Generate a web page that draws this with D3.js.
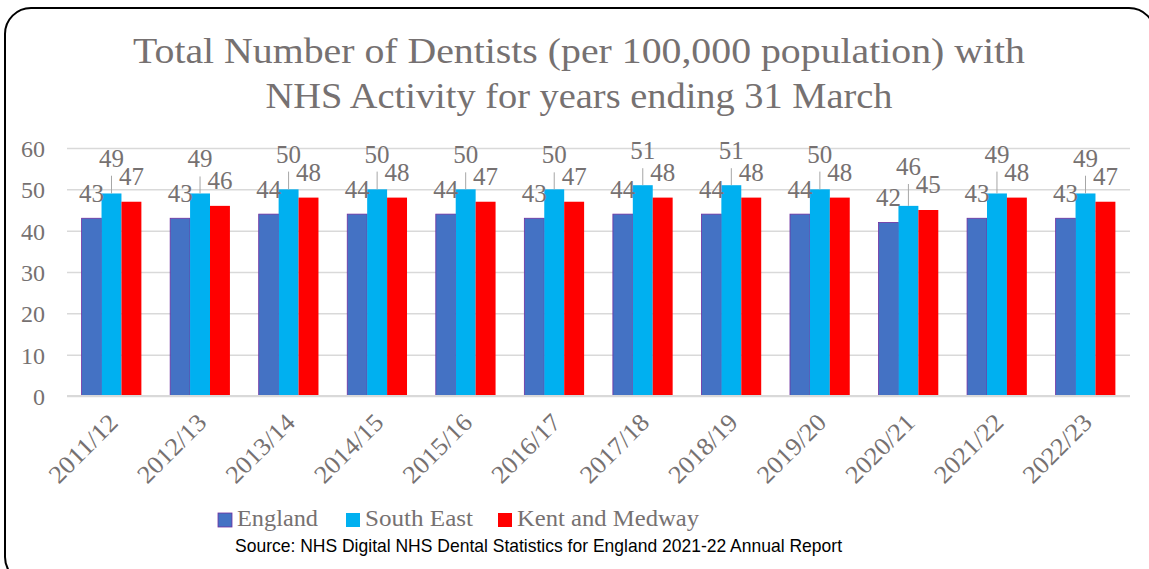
<!DOCTYPE html>
<html>
<head>
<meta charset="utf-8">
<script src="https://cdn.jsdelivr.net/npm/d3@7.9.0/dist/d3.min.js"></script>
<style>
  body { margin: 0; background: #fff; }
  svg { display: block; }
</style>
</head>
<body>
<div id="chart"></div>
<script>
// data
const years = ['2011/12', '2012/13', '2013/14', '2014/15', '2015/16', '2016/17',
  '2017/18', '2018/19', '2019/20', '2020/21', '2021/22', '2022/23'];
const seriesNames = ['England', 'South East', 'Kent and Medway'];
const england = [43, 43, 44, 44, 44, 43, 44, 44, 44, 42, 43, 43];
const southEast = [49, 49, 50, 50, 50, 50, 51, 51, 50, 46, 49, 49];
const kentMedway = [47, 46, 48, 48, 47, 47, 48, 48, 48, 45, 48, 47];
const yTicks = [0, 10, 20, 30, 40, 50, 60];
const titleLines = ['Total Number of Dentists (per 100,000 population) with',
  'NHS Activity for years ending 31 March'];
const sourceText = 'Source: NHS Digital NHS Dental Statistics for England 2021-22 Annual Report';

const width = 1149;
const height = 569;
const textColor = '#767171';
const serif = '"Liberation Serif", "DejaVu Serif", serif';
const colors = { 'England': '#4472C4', 'South East': '#00B0F0', 'Kent and Medway': '#FF0000' };

const rows = years.map((year, i) => ({
  year,
  values: [
    { key: 'England', value: england[i] },
    { key: 'South East', value: southEast[i] },
    { key: 'Kent and Medway', value: kentMedway[i] }
  ]
}));

const svg = d3.select('#chart')
  .append('svg')
  .attr('width', width)
  .attr('height', height);

// rounded frame
svg.append('rect')
  .attr('x', 5).attr('y', 8)
  .attr('width', 1150).attr('height', 575)
  .attr('rx', 26)
  .attr('fill', 'none')
  .attr('stroke', '#000')
  .attr('stroke-width', 2);

// title
const titleWidths = [892, 627];
svg.append('g').selectAll('text')
  .data(titleLines)
  .join('text')
  .attr('x', 579)
  .attr('y', (d, i) => 63 + i * 45)
  .attr('text-anchor', 'middle')
  .attr('font-family', serif)
  .attr('font-size', 35)
  .attr('fill', textColor)
  .attr('textLength', (d, i) => titleWidths[i])
  .attr('lengthAdjust', 'spacingAndGlyphs')
  .text(d => d);

const x0 = d3.scaleBand().domain(years).range([67, 1130]).paddingInner(0.325).paddingOuter(0.165);
const x1 = d3.scaleBand().domain(seriesNames).range([0, x0.bandwidth()]);
const y = d3.scaleLinear().domain([0, 60]).range([396, 148]);

// gridlines
svg.append('g')
  .attr('transform', 'translate(67,0)')
  .call(d3.axisLeft(y).tickValues(yTicks).tickFormat('').tickSize(-(1130 - 67)))
  .call(g => g.select('.domain').remove())
  .call(g => g.selectAll('line').attr('stroke', '#D9D9D9').attr('stroke-width', 1.5));

// y labels
svg.append('g')
  .attr('transform', 'translate(45,0)')
  .call(d3.axisLeft(y).tickValues(yTicks).tickSize(0).tickPadding(0))
  .call(g => g.select('.domain').remove())
  .call(g => g.selectAll('text')
    .attr('font-family', serif)
    .attr('font-size', 24)
    .attr('fill', textColor)
    .attr('dy', '0.36em'));

// bars
const groups = svg.append('g').selectAll('g')
  .data(rows)
  .join('g')
  .attr('transform', d => `translate(${x0(d.year)},0)`);

groups.selectAll('rect')
  .data(d => d.values)
  .join('rect')
  .attr('x', d => x1(d.key))
  .attr('y', d => y(d.value))
  .attr('width', x1.bandwidth())
  .attr('height', d => y(0) - y(d.value))
  .attr('fill', d => colors[d.key])
  .attr('stroke', d => d.key === 'England' ? '#7030A0' : 'none')
  .attr('stroke-width', 0.8);

// x axis line
svg.append('line')
  .attr('x1', 67).attr('x2', 1130)
  .attr('y1', y(0)).attr('y2', y(0))
  .attr('stroke', '#D9D9D9')
  .attr('stroke-width', 2);

// label baselines: South East label is lifted clear of the Kent and Medway label
const labelOffset = { 'England': 16, 'South East': 26, 'Kent and Medway': 17 };
function labelY(row, key) {
  const v = row.values.find(d => d.key === key).value;
  if (key !== 'South East') return y(v) - labelOffset[key];
  const km = row.values.find(d => d.key === 'Kent and Medway').value;
  return Math.min(y(v) - labelOffset[key], y(km) - labelOffset['Kent and Medway'] - 18);
}

// leader lines for South East labels
groups.selectAll('line.leader')
  .data(d => [d])
  .join('line')
  .attr('class', 'leader')
  .attr('x1', x1('South East') + x1.bandwidth() / 2)
  .attr('x2', x1('South East') + x1.bandwidth() / 2)
  .attr('y1', d => y(d.values[1].value))
  .attr('y2', d => labelY(d, 'South East') + 9)
  .attr('stroke', '#A6A6A6')
  .attr('stroke-width', 1);

// value labels
groups.selectAll('text.value')
  .data(d => d.values.map(v => ({ ...v, row: d })))
  .join('text')
  .attr('class', 'value')
  .attr('x', d => x1(d.key) + x1.bandwidth() / 2)
  .attr('y', d => labelY(d.row, d.key))
  .attr('text-anchor', 'middle')
  .attr('font-family', serif)
  .attr('font-size', 25)
  .attr('fill', textColor)
  .attr('textLength', 25)
  .attr('lengthAdjust', 'spacingAndGlyphs')
  .text(d => d.value);

// x labels
svg.append('g').selectAll('text')
  .data(years)
  .join('text')
  .attr('transform', d => `translate(${x0(d) + x0.bandwidth() / 2 + 8},${y(0) + 28}) rotate(-45)`)
  .attr('text-anchor', 'end')
  .attr('font-family', serif)
  .attr('font-size', 25)
  .attr('fill', textColor)
  .attr('textLength', 86)
  .attr('lengthAdjust', 'spacingAndGlyphs')
  .text(d => d);

// legend
const legendX = [218, 346, 498];
const legendWidths = [81, 108, 182];
const legend = svg.append('g').selectAll('g')
  .data(seriesNames)
  .join('g')
  .attr('transform', (d, i) => `translate(${legendX[i]},513)`);

legend.append('rect')
  .attr('width', 14).attr('height', 14)
  .attr('fill', d => colors[d])
  .attr('stroke', d => d === 'England' ? '#7030A0' : 'none')
  .attr('stroke-width', 0.8);

legend.append('text')
  .attr('x', 19)
  .attr('y', 13)
  .attr('font-family', serif)
  .attr('font-size', 24)
  .attr('fill', textColor)
  .attr('textLength', (d, i) => legendWidths[i])
  .attr('lengthAdjust', 'spacingAndGlyphs')
  .text(d => d);

// source note
svg.append('text')
  .attr('x', 235)
  .attr('y', 552)
  .attr('font-family', '"Liberation Sans", Arial, sans-serif')
  .attr('font-size', 19)
  .attr('fill', '#000')
  .attr('textLength', 607)
  .attr('lengthAdjust', 'spacingAndGlyphs')
  .text(sourceText);
</script>
</body>
</html>
